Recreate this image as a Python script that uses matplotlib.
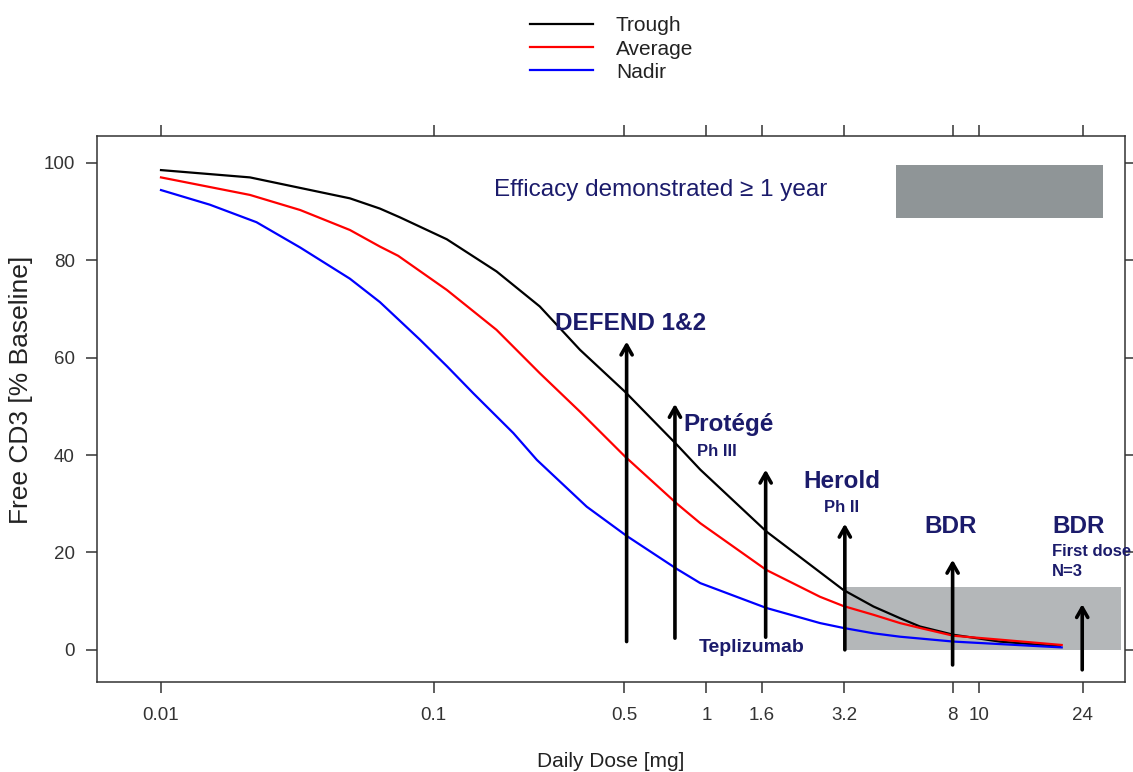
import matplotlib
matplotlib.use("Agg")
import matplotlib.pyplot as plt

plt.rcParams['font.family'] = ['Liberation Sans', 'DejaVu Sans']

# curves (dose in mg, free CD3 in % of baseline)
trough_dose = [0.01, 0.0212, 0.0493, 0.0635, 0.0752, 0.1117, 0.170, 0.245, 0.344,
               0.503, 0.78, 0.95, 1.66, 3.18, 4.1, 5.13, 6.07, 8.05, 11.9, 19.8]
trough_cd3 = [98.5, 97.0, 92.7, 90.6, 88.8, 84.3, 77.7, 70.5, 61.6,
              53.0, 42.1, 37.0, 24.3, 12.3, 8.9, 6.5, 4.8, 3.1, 1.7, 0.7]

average_dose = [0.01, 0.0212, 0.0324, 0.0493, 0.0635, 0.0741, 0.1117, 0.170, 0.245,
                0.344, 0.503, 0.78, 0.95, 1.66, 2.61, 3.18, 4.1, 5.13, 6.07,
                8.05, 11.9, 20.1]
average_cd3 = [97.0, 93.4, 90.3, 86.2, 82.8, 80.9, 73.9, 65.7, 56.8,
               48.9, 39.7, 30.0, 26.0, 16.4, 10.9, 9.0, 7.2, 5.5, 4.5,
               2.9, 2.1, 1.0]

nadir_dose = [0.01, 0.0151, 0.0224, 0.0324, 0.0493, 0.0635, 0.089, 0.112, 0.1396,
              0.196, 0.239, 0.364, 0.51, 0.78, 0.95, 1.66, 2.61, 3.18, 4.1,
              5.13, 8.05, 20.1]
nadir_cd3 = [94.4, 91.4, 87.8, 82.6, 76.2, 71.4, 63.7, 58.2, 52.7,
             44.5, 39.0, 29.4, 23.4, 16.6, 13.7, 8.6, 5.5, 4.5, 3.4,
             2.7, 1.7, 0.5]

tick_doses = [0.01, 0.1, 0.5, 1, 1.6, 3.2, 8, 10, 24]
tick_labels = ['0.01', '0.1', '0.5', '1', '1.6', '3.2', '8', '10', '24']

# study arrows: dose, arrow base, arrow tip
arrow_dose = [0.51, 0.767, 1.65, 3.22, 8.0, 23.9]
arrow_base = [1.7, 2.4, 2.6, 0.0, -3.1, -4.1]
arrow_tip = [63.3, 50.5, 37.0, 25.9, 18.5, 9.4]

navy = '#1b1b6b'

fig = plt.figure(figsize=(11.33, 7.72), dpi=100)
ax = fig.add_axes([97 / 1133, 90 / 772, (1125 - 97) / 1133, (682 - 136) / 772])

ax.set_xscale('log')
ax.set_xlim(0.005825, 34.3)
ax.set_ylim(-6.6, 105.5)

# shaded regions
ax.axvspan(4.95, 28.6, ymin=(88.7 + 6.6) / 112.1, ymax=(99.6 + 6.6) / 112.1,
           color='#8f9597', lw=0, zorder=1)
ax.fill_between([3.22, 33.3], 0, 12.9, color='#b4b7b9', lw=0, zorder=1)

l1, = ax.plot(trough_dose, trough_cd3, color='black', lw=1.6, zorder=3)
l2, = ax.plot(average_dose, average_cd3, color='#ff0000', lw=1.6, zorder=3)
l3, = ax.plot(nadir_dose, nadir_cd3, color='#0000ff', lw=1.6, zorder=3)

for xd, y0, y1 in zip(arrow_dose, arrow_base, arrow_tip):
    ax.annotate('', xy=(xd, y1), xytext=(xd, y0),
                arrowprops=dict(arrowstyle='->, head_length=0.7, head_width=0.4',
                                color='black', lw=2.6, shrinkA=0, shrinkB=0),
                zorder=4)

ax.text(0.681, 94.5, 'Efficacy demonstrated \u2265 1 year', color=navy,
        fontsize=17.5, ha='center', va='center')
ax.text(0.528, 67.1, 'DEFEND 1&2', color=navy, fontsize=17.5, fontweight='bold',
        ha='center', va='center')
ax.text(1.21, 46.2, 'Protégé', color=navy, fontsize=17.5, fontweight='bold',
        ha='center', va='center')
ax.text(1.094, 40.7, 'Ph III', color=navy, fontsize=12, fontweight='bold',
        ha='center', va='center')
ax.text(3.14, 34.5, 'Herold', color=navy, fontsize=17.5, fontweight='bold',
        ha='center', va='center')
ax.text(3.14, 29.2, 'Ph II', color=navy, fontsize=12, fontweight='bold',
        ha='center', va='center')
ax.text(7.89, 25.3, 'BDR', color=navy, fontsize=17.5, fontweight='bold',
        ha='center', va='center')
ax.text(23.2, 25.3, 'BDR', color=navy, fontsize=17.5, fontweight='bold',
        ha='center', va='center')
ax.text(18.5, 20.1, 'First dose', color=navy, fontsize=12, fontweight='bold',
        ha='left', va='center')
ax.text(18.5, 16.0, 'N=3', color=navy, fontsize=12, fontweight='bold',
        ha='left', va='center')
ax.text(1.47, 0.4, 'Teplizumab', color=navy, fontsize=14, fontweight='bold',
        ha='center', va='center')

ax.set_xticks(tick_doses)
ax.set_xticklabels(tick_labels)
ax.minorticks_off()
ax.set_yticks([0, 20, 40, 60, 80, 100])
ax.tick_params(axis='both', direction='out', length=8, width=1.1, colors='#333333',
               labelsize=13.5, top=True, right=True)
ax.tick_params(axis='x', pad=10)
ax.tick_params(axis='y', pad=8)
for s in ax.spines.values():
    s.set_linewidth(1.1)
    s.set_color('#333333')

ax.set_xlabel('Daily Dose [mg]', fontsize=15, color='#222222')
ax.xaxis.set_label_coords(0.5, -0.128)
ax.set_ylabel('Free CD3 [% Baseline]', fontsize=19, color='#222222')
ax.yaxis.set_label_coords(-0.062, 0.535)

fig.legend([l1, l2, l3], ['Trough', 'Average', 'Nadir'], loc='upper left',
           bbox_to_anchor=(520 / 1133, 1 - 6 / 772), frameon=False, fontsize=15,
           handlelength=3.0, handletextpad=1.1, labelspacing=0.2, borderpad=0,
           labelcolor='#222222')

fig.savefig('out.png', dpi=100)
